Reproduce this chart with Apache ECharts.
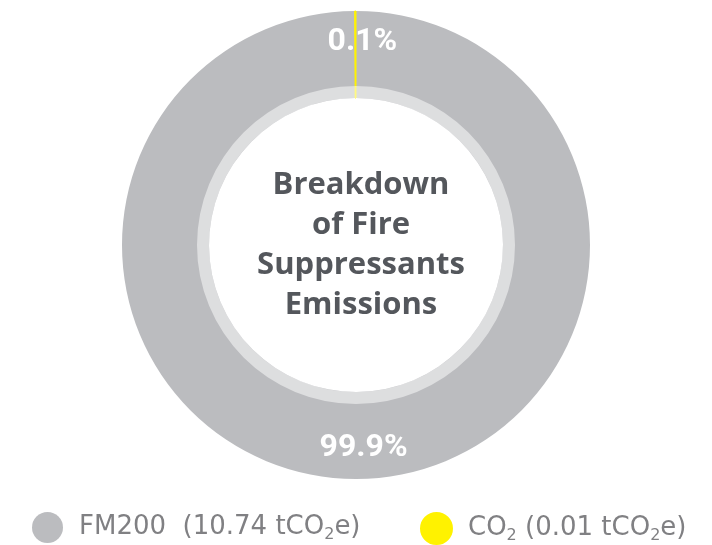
<!DOCTYPE html>
<html>
<head>
<meta charset="utf-8">
<script src="https://cdn.jsdelivr.net/npm/echarts@6/dist/echarts.min.js"></script>
<style>
html,body{margin:0;padding:0;background:#ffffff;}
#chart{width:712px;height:545px;}
</style>
</head>
<body>
<div id="chart"></div>
<script>
var categories = ['FM200', 'CO₂'];
var values = [10.74, 0.01];
// legend labels as rich-text pieces: [text, isSubscript]
var legendParts = [
  [['FM200  (10.74 tCO', 0], ['2', 1], ['e)', 0]],
  [['CO', 0], ['2', 1], [' (0.01 tCO', 0], ['2', 1], ['e)', 0]]
];
var colors = ['#bbbcbf', '#fff200'];
var centerTitle = 'Breakdown\nof Fire\nSuppressants\nEmissions';

function richLabel(parts) {
  return parts.map(function (p) { return '{' + (p[1] ? 's' : 't') + '|' + p[0] + '}'; }).join('');
}

var pieData = categories.map(function (c, i) {
  var d = { name: c, value: values[i], itemStyle: { color: colors[i] } };
  if (i === 1) { d.itemStyle.borderColor = colors[i]; d.itemStyle.borderWidth = 1; }
  return d;
});

var legendText = {
  padding: [0, 0, 0, 11],
  rich: {
    t: { fontFamily: 'DejaVu Sans', fontSize: 26, color: '#808083', lineHeight: 30 },
    s: { fontFamily: 'DejaVu Sans', fontSize: 16, color: '#808083', lineHeight: 14, verticalAlign: 'bottom' }
  }
};

var chart = echarts.init(document.getElementById('chart'));
chart.setOption({
  backgroundColor: '#ffffff',
  animation: false,
  title: {
    text: centerTitle,
    left: 356,
    top: 160,
    textAlign: 'center',
    textStyle: {
      fontFamily: 'Open Sans',
      fontWeight: 'bold',
      fontSize: 31,
      lineHeight: 40,
      color: '#54575c'
    }
  },
  legend: [
    {
      data: [categories[0]],
      left: 32, top: 512, padding: 0,
      icon: 'circle', itemWidth: 31, itemHeight: 31,
      selectedMode: false,
      formatter: function () { return richLabel(legendParts[0]); },
      textStyle: legendText
    },
    {
      data: [categories[1]],
      left: 420, top: 512, padding: 0,
      icon: 'circle', itemWidth: 31, itemHeight: 31,
      selectedMode: false,
      formatter: function () { return richLabel(legendParts[1]); },
      textStyle: legendText
    }
  ],
  series: [
    {
      type: 'pie',
      center: [356, 245],
      radius: [147, 234],
      startAngle: 90,
      clockwise: true,
      silent: true,
      label: { show: false },
      labelLine: { show: false },
      data: pieData
    },
    {
      type: 'pie',
      center: [356, 245],
      radius: [147, 159],
      silent: true,
      label: { show: false },
      labelLine: { show: false },
      itemStyle: { color: 'rgba(255,255,255,0.5)' },
      data: [{ name: 'overlay', value: 1 }]
    },
    {
      type: 'pie',
      center: [356, 245],
      radius: [167, 234],
      startAngle: 90,
      clockwise: true,
      silent: true,
      percentPrecision: 1,
      itemStyle: { color: 'rgba(0,0,0,0)' },
      label: {
        show: true,
        position: 'inside',
        formatter: '{d}%',
        fontFamily: 'Roboto',
        fontWeight: 'bold',
        fontSize: 32,
        color: '#ffffff',
        padding: [0, 0, 0, 14]
      },
      labelLine: { show: false },
      data: categories.map(function (c, i) { return { name: c, value: values[i] }; })
    }
  ]
});
</script>
</body>
</html>
